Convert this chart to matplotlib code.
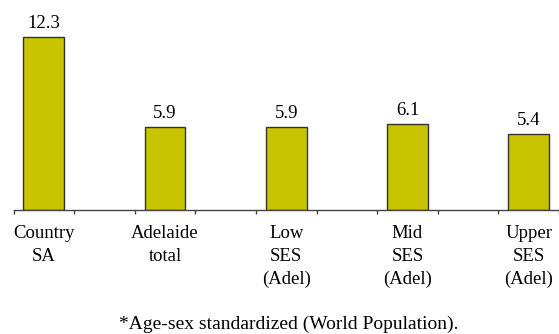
import matplotlib
matplotlib.use("Agg")
import matplotlib.pyplot as plt
from matplotlib.transforms import blended_transform_factory

categories = ["Country\nSA", "Adelaide\ntotal", "Low\nSES\n(Adel)", "Mid\nSES\n(Adel)", "Upper\nSES\n(Adel)"]
values = [12.3, 5.9, 5.9, 6.1, 5.4]
value_labels = ["12.3", "5.9", "5.9", "6.1", "5.4"]
footnote = "*Age-sex standardized (World Population)."

plt.rcParams["font.family"] = ["Liberation Serif", "DejaVu Serif"]

W, H = 559, 334
fig = plt.figure(figsize=(W / 100, H / 100), dpi=100)
# axes: left at x=13.5, baseline at y=210, top at figure top
ax = fig.add_axes([13.5 / W, (H - 210) / H, (W - 13.5) / W, 210 / H])

# each category occupies a slot, with an empty slot between categories
positions = [2 * i for i in range(len(categories))]
ax.bar(positions, values, width=0.675, color="#C8C400", edgecolor="#333333", linewidth=1.0)
ax.set_xlim(-0.5, 2 * len(categories) - 1.5)
ax.set_ylim(0, 210 / 14.05)

for x, v, t in zip(positions, values, value_labels):
    ax.annotate(t, (x, v), xytext=(0, 6.8), textcoords="offset points",
                ha="center", va="baseline", fontsize=13.5)

for s in ["top", "right", "left"]:
    ax.spines[s].set_visible(False)
ax.spines["bottom"].set_color("#444444")
ax.spines["bottom"].set_linewidth(1.0)
ax.set_yticks([])

boundaries = [b - 0.5 for b in range(2 * len(categories))]
ax.set_xticks(boundaries)
ax.set_xticklabels([])
ax.tick_params(axis="x", direction="out", length=3, width=1.0, color="#444444")

# category labels, one line at a time (baselines in figure pixels)
trans = blended_transform_factory(ax.transData, fig.transFigure)
line_baselines = [238.5, 261, 283.5]
for x, c in zip(positions, categories):
    for line, yb in zip(c.split("\n"), line_baselines):
        ax.text(x, 1 - yb / H, line, transform=trans, ha="center", va="baseline",
                fontsize=13.5)

fig.text(289 / W, 1 - 329 / H, footnote, ha="center", va="baseline", fontsize=14)

fig.savefig("out.png", dpi=100)
